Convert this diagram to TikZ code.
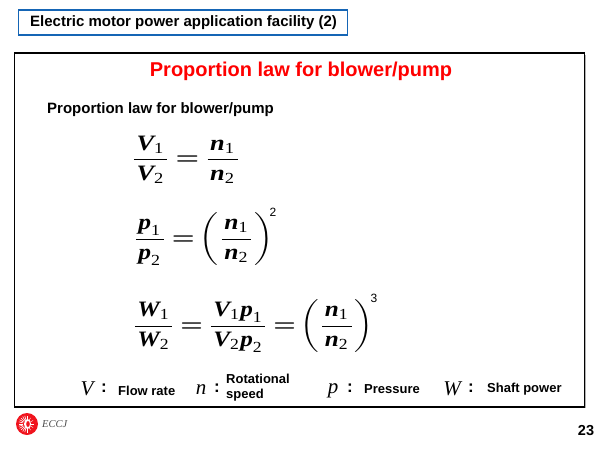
\documentclass[tikz,border=0pt]{standalone}
\usepackage{amsmath}
\usepackage{graphicx}
\usepackage{fontspec}
\setmainfont{Liberation Sans}
\newfontfamily\mathserif{Liberation Serif}
\newcommand\mv[1]{\text{\mathserif\itshape\bfseries #1}}
\newcommand\ms[1]{_{\text{\mathserif #1}}}
\newcommand\fr[2]{\frac{\hspace{1pt}#1\hspace{1pt}}{\hspace{1pt}#2\hspace{1pt}}}
\newcommand\eqs{\mathrel{\boldsymbol{=}}}
\newcommand\eqn[2]{\scalebox{#1}[2.2]{$\thickmuskip=3.5mu\displaystyle #2$}}
\definecolor{boxblue}{HTML}{1565B5}
\definecolor{titlered}{HTML}{FF0000}
\definecolor{logored}{HTML}{F0141E}
\tikzset{
 x=1pt,y=-1pt,
 lab/.style={font=\fontsize{#1}{#1}\selectfont\bfseries,inner sep=0pt,text=black},
 eq/.style={inner sep=0pt},
 expo/.style={font=\fontsize{12}{12}\selectfont,inner sep=0pt},
 sym/.style={font=\fontsize{21}{21}\mathserif\itshape,inner sep=0pt},
 colon/.style={font=\fontsize{17}{17}\selectfont\bfseries,inner sep=0pt},
 legend/.style={font=\fontsize{13}{15.5}\selectfont\bfseries,inner sep=0pt,align=left},
}
\begin{document}
\begin{tikzpicture}
\useasboundingbox (0,0) rectangle (600,450);
\fill[white] (0,0) rectangle (600,450);
% boxes
\fill[gray!60] (16,55) rectangle (586,408);
\draw[black,line width=1.1pt,fill=white] (14.5,53) rectangle (584.5,407);
\node[draw=boxblue,line width=1.5pt,fill=white,minimum width=329pt,minimum height=25pt,inner sep=0pt] (head) at (183,22.5) {};
\node[lab=15,anchor=west] (headt) at (30,22.5) {Electric motor power application facility (2)};
\node[font=\fontsize{20}{20}\selectfont\bfseries,text=titlered,inner sep=0pt] (title) at (301,71.5) {Proportion law for blower/pump};
\node[lab=15,anchor=west] (sub) at (47,110) {Proportion law for blower/pump};
% equations
\node[eq] (e1) at (186,159.5) {\eqn{2.64}{\fr{\mv{V}\ms{1}}{\mv{V}\ms{2}}\eqs\fr{\mv{n}\ms{1}}{\mv{n}\ms{2}}}};
\node[eq] (e2) at (203,239) {\eqn{2.56}{\fr{\mv{p}\ms{1}}{\mv{p}\ms{2}}\eqs\left(\fr{\mv{n}\ms{1}}{\mv{n}\ms{2}}\right)}};
\node[expo] (x2) at (273,212) {2};
\node[eq] (e3) at (252.5,326) {\eqn{2.52}{\fr{\mv{W}\ms{1}}{\mv{W}\ms{2}}\eqs\fr{\mv{V}\ms{1}\mv{p}\ms{1}}{\mv{V}\ms{2}\mv{p}\ms{2}}\eqs\left(\fr{\mv{n}\ms{1}}{\mv{n}\ms{2}}\right)}};
\node[expo] (x3) at (374,298) {3};
% legend
\node[sym] (sV) at (87,389) {V};
\node[colon] (cV) at (104,388) {:};
\node[legend,anchor=west] (lV) at (118,390.5) {Flow rate};
\node[sym] (sn) at (201,390) {n};
\node[colon] (cn) at (217,388) {:};
\node[legend,anchor=west] (ln) at (226,387.5) {Rotational\\speed};
\node[sym] (sp) at (333,391) {p};
\node[colon] (cp) at (350,388) {:};
\node[legend,anchor=west] (lp) at (364,389.5) {Pressure};
\node[sym] (sW) at (452,389) {W};
\node[colon] (cW) at (471,388) {:};
\node[legend,anchor=west] (lW) at (487,389.5) {Shaft power};
% logo
\fill[logored] (27,424) circle (11);
\foreach \a in {90,105,...,270}{\draw[white,line width=0.6pt] (27,424)+(\a:4) -- +(\a:8.5);}
\foreach \a in {-60,-30,...,60}{\draw[white,line width=0.4pt] (27,424)+(\a:4) -- +(\a:7);}
\fill[white] (27.5,424) ellipse (3.5 and 5);
\fill[logored] (28,424) ellipse (1.8 and 3);
\node[font=\fontsize{10.5}{11}\mathserif\itshape,text=black!70,inner sep=0pt,anchor=west] (eccj) at (42,424) {ECCJ};
\node[lab=14.5] (page) at (586,431) {23};
\end{tikzpicture}
\end{document}
